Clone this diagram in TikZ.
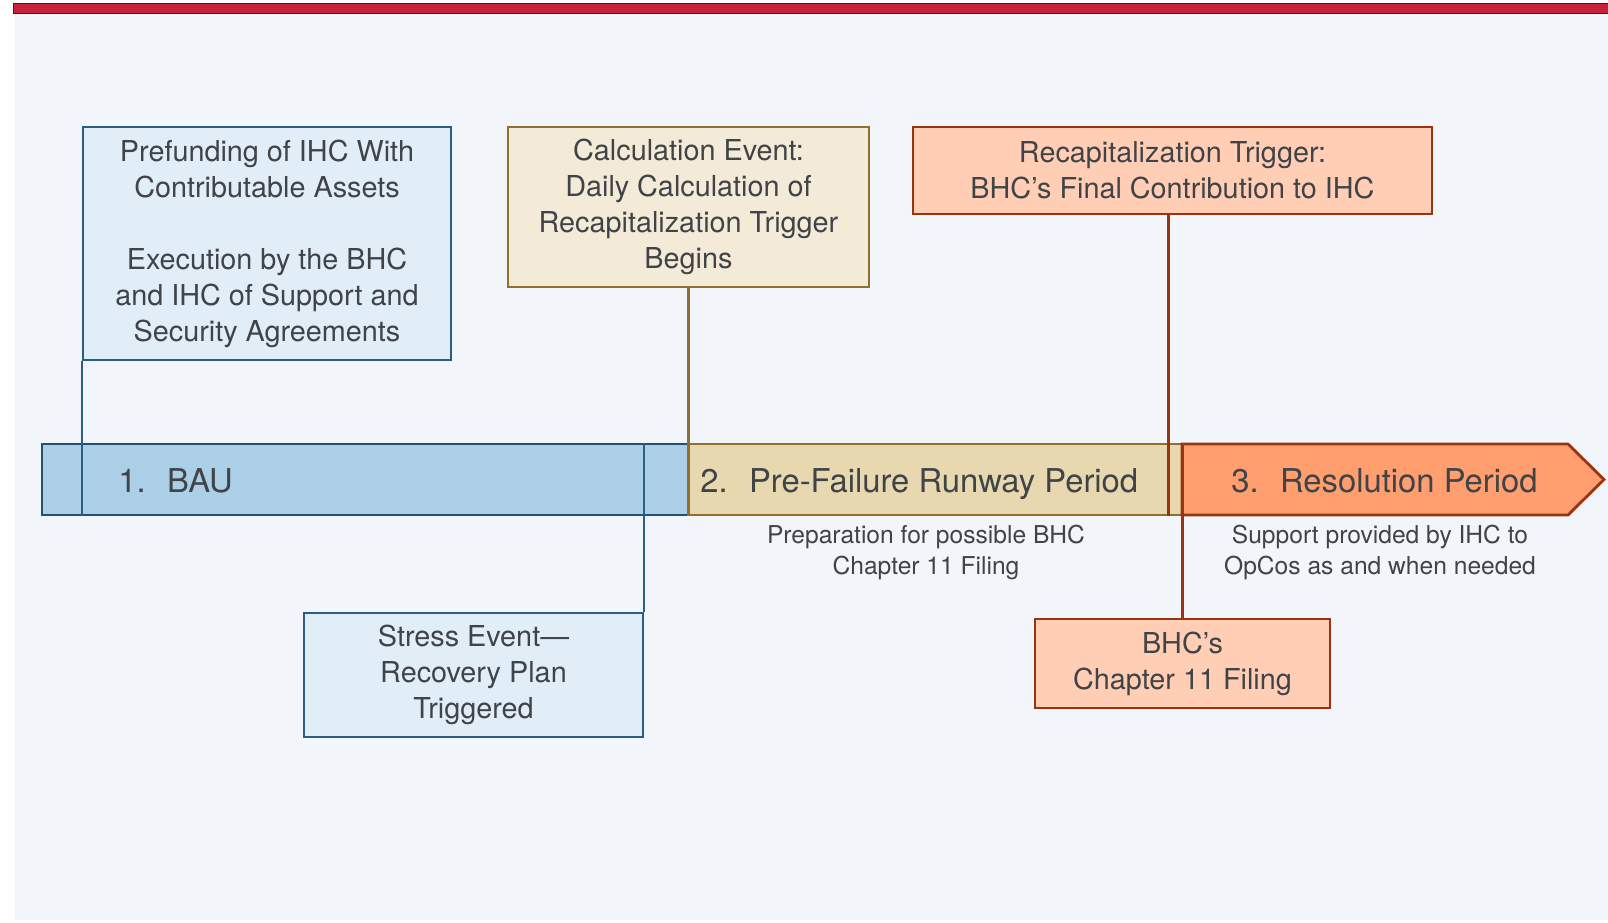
\documentclass[tikz,border=0pt]{standalone}
\usepackage{fontspec}
\setmainfont{TeX Gyre Heros}

\definecolor{pagebg}{HTML}{F2F6FA}
\definecolor{topred}{HTML}{C8213E}
\definecolor{ink}{HTML}{404347}
\definecolor{blueline}{HTML}{2A5F83}
\definecolor{bluebar}{HTML}{AACFE6}
\definecolor{bluefill}{HTML}{E1EEF7}
\definecolor{tanline}{HTML}{907030}
\definecolor{tanbar}{HTML}{E8D8B0}
\definecolor{tanfill}{HTML}{F4EAD8}
\definecolor{rustline}{HTML}{9A3410}
\definecolor{orangebar}{HTML}{FF9E6E}
\definecolor{salmonfill}{HTML}{FFCEB4}

\tikzset{
  boxtext/.style={font=\fontsize{14.4}{18}\selectfont, text=ink, align=center, inner sep=0pt, line width=1.1pt},
  bluebox/.style={boxtext, draw=blueline, fill=bluefill},
  tanbox/.style={boxtext, draw=tanline, fill=tanfill},
  rustbox/.style={boxtext, draw=rustline, fill=salmonfill},
  phase/.style={inner sep=0pt, line width=1.4pt, minimum height=35.5pt},
  phasetext/.style={font=\fontsize{16.4}{20}\selectfont, text=ink, inner sep=0pt},
  note/.style={font=\fontsize{12.3}{15.5}\selectfont, text=ink, align=center, inner sep=0pt},
  conn/.style={line width=1.3pt},
}

\begin{document}
\begin{tikzpicture}[x=0.5pt,y=-0.5pt]
  \useasboundingbox (0,0) rectangle (1608,922);
  % page background and top rule
  \fill[pagebg] (15,13) rectangle (1608,920);
  \draw[fill=topred, draw=black!85, line width=0.5pt] (13,3.5) rectangle (1609,13);

  % timeline phases
  \node[phase, draw=blueline!85!black, fill=bluebar, minimum width=323pt] (bau) at (365,479.5) {};
  \node[phase, draw=tanline, fill=tanbar, minimum width=247pt] (runway) at (935,479.5) {};
  \coordinate (resnw) at (1182,444);
  \coordinate (ressw) at (1182,515);
  \coordinate (restip) at (1604,479.5);
  \draw[line width=1.4pt, draw=rustline, fill=orangebar, line join=miter]
    (resnw) -- (1568,444) -- (restip) -- (1568,515) -- (ressw) -- cycle;

  \node[phasetext, anchor=base west] (bautxt) at (118,492) {1.\hspace{0.65em}BAU};
  \node[phasetext, anchor=base west] (runwaytxt) at (700,492) {2.\hspace{0.65em}Pre-Failure Runway Period};
  \node[phasetext, anchor=base] (restxt) at (1384.5,492) {3.\hspace{0.65em}Resolution Period};

  % event boxes
  \node[bluebox, minimum width=184pt, minimum height=116.5pt] (prefund) at (267,243.5)
    {Prefunding of IHC With\\Contributable Assets\\[18pt]Execution by the BHC\\and IHC of Support and\\Security Agreements};
  \node[tanbox, minimum width=180.5pt, minimum height=80pt] (calc) at (688.5,207)
    {Calculation Event:\\Daily Calculation of\\Recapitalization Trigger\\Begins};
  \node[rustbox, minimum width=259.5pt, minimum height=43.5pt] (recap) at (1172.5,170.5)
    {Recapitalization Trigger:\\BHC’s Final Contribution to IHC};
  \node[bluebox, minimum width=169.5pt, minimum height=62pt] (stress) at (473.5,675)
    {Stress Event—\\Recovery Plan\\Triggered};
  \node[rustbox, minimum width=147.5pt, minimum height=44.5pt] (filing) at (1182.5,663.5)
    {BHC’s\\Chapter 11 Filing};

  % phase notes
  \node[note] (runwaynote) at (926,552) {Preparation for possible BHC\\Chapter 11 Filing};
  \node[note] (resnote) at (1380,552) {Support provided by IHC to\\OpCos as and when needed};

  % connectors from events to the timeline
  \draw[conn, blueline] (prefund.south west) -- (prefund.south west |- bau.south);
  \draw[conn, tanline] (calc.south) -- (calc.south |- bau.south);
  \draw[conn, rustline] ([xshift=-2pt]recap.south) -- ([xshift=-2pt]recap.south |- runway.south);
  \draw[conn, blueline] (stress.north east) -- (stress.north east |- bau.north);
  \draw[conn, rustline] (filing.north) -- (filing.north |- resnw);
\end{tikzpicture}
\end{document}
